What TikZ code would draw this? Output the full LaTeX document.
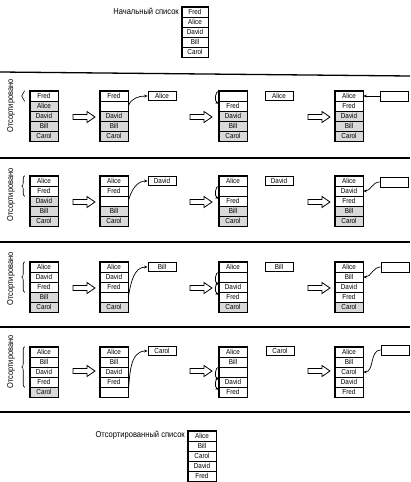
\documentclass[tikz,border=0pt]{standalone}
\usepackage{fontspec}
\setmainfont{Liberation Sans}[FakeStretch=0.88]
\usetikzlibrary{decorations.pathreplacing,arrows.meta,calc}
\tikzset{
  cell/.style={draw, line width=0.6pt, minimum height=10pt, inner sep=0pt, font=\fontsize{7.2}{7.5}\selectfont},
  wh/.style={fill=white},
  sh/.style={fill=gray!30},
  tmp/.style={draw, line width=0.8pt, minimum width=28pt, minimum height=9pt, inner sep=0pt, font=\fontsize{7.2}{7.5}\selectfont},
  conn/.style={-{Stealth[length=3.5pt,width=2.8pt]}, line width=0.7pt},
  hollow/.style={draw, line width=0.8pt, fill=white, line join=miter},
  sep/.style={line width=1.3pt},
  brc/.style={decorate, decoration={brace, amplitude=3pt}, line width=0.6pt},
  side/.style={rotate=90, inner sep=0pt, font=\fontsize{8.5}{9}\selectfont},
  lbl/.style={anchor=east, inner sep=0pt, font=\fontsize{8.6}{9}\selectfont}
}
\newcommand\mklist[5]{%
  \foreach \txt/\fl [count=\i] in {#5}{%
    \node[cell,\fl,minimum width=#4pt] (#1-\i) at ({#2+#4/2},{#3+10*\i-5}) {\txt};}
  \draw[line width=0.9pt] (#1-1.north west) rectangle (#1-5.south east);
}
\newcommand\harrow[2]{%
  \draw[hollow] (#1,{#2-2.5}) -- ({#1+14},{#2-2.5}) -- ({#1+14},{#2-5.5}) -- ({#1+22},#2)
    -- ({#1+14},{#2+5.5}) -- ({#1+14},{#2+2.5}) -- (#1,{#2+2.5}) -- cycle;}
\begin{document}
\begin{tikzpicture}[x=1pt,y=-1pt]
\useasboundingbox (0,0) rectangle (410,482);
\fill[white] (0,0) rectangle (410,482);

% initial list
\node[lbl] (initlbl) at (179,11) {Начальный список};
\mklist{top}{182}{7}{26}{Fred/wh,Alice/wh,David/wh,Bill/wh,Carol/wh}

% separators
\draw[sep] (0,72) -- (410,76);
\draw[sep] (0,158) -- (410,158);
\draw[sep] (0,242) -- (410,242);
\draw[sep] (0,327) -- (410,327);
\draw[sep] (0,412) -- (410,412);

% ---------- row 1 ----------
\node[side] (s1) at (11,106) {Отсортировано};
\mklist{a1}{30}{91}{28}{Fred/wh,Alice/sh,David/sh,Bill/sh,Carol/sh}
\draw[brc] ([xshift=-5pt]a1-1.south west) -- ([xshift=-5pt]a1-1.north west);
\harrow{73}{117}
\mklist{b1}{100}{91}{28}{Fred/wh,/wh,David/sh,Bill/sh,Carol/sh}
\node[tmp] (t1) at (162,96) {Alice};
\draw[conn] (b1-2.east) to[out=70,in=180] (t1.west);
\harrow{190}{117}
\mklist{c1}{219}{91}{28}{/wh,Fred/wh,David/sh,Bill/sh,Carol/sh}
\draw[conn] ([xshift=1pt]c1-1.north west) to[out=180,in=150] ([yshift=-3pt]c1-2.north west);
\node[tmp] (u1) at (279,96) {Alice};
\harrow{308}{117}
\mklist{d1}{335}{91}{28}{Alice/wh,Fred/wh,David/sh,Bill/sh,Carol/sh}
\node[tmp, minimum height=10pt] (e1) at (394,96) {};
\draw[conn] (e1.west) -- (d1-1.east);

% ---------- row 2 ----------
\node[side] (s2) at (11,195) {Отсортировано};
\mklist{a2}{30}{176}{28}{Alice/wh,Fred/wh,David/sh,Bill/sh,Carol/sh}
\draw[brc] ([xshift=-5pt]a2-2.south west) -- ([xshift=-5pt]a2-1.north west);
\harrow{73}{202}
\mklist{b2}{100}{176}{28}{Alice/wh,Fred/wh,/wh,Bill/sh,Carol/sh}
\node[tmp] (t2) at (162,181) {David};
\draw[conn] (b2-3.east) to[out=75,in=180] (t2.west);
\harrow{190}{202}
\mklist{c2}{219}{176}{28}{Alice/wh,/wh,Fred/wh,Bill/sh,Carol/sh}
\draw[conn] ([xshift=1pt]c2-2.north west) to[out=180,in=150] ([yshift=-3pt]c2-3.north west);
\node[tmp] (u2) at (279,181) {David};
\harrow{308}{202}
\mklist{d2}{335}{176}{28}{Alice/wh,David/wh,Fred/wh,Bill/sh,Carol/sh}
\node[tmp, minimum height=10pt] (e2) at (394,182) {};
\draw[conn] (e2.west) to[out=180,in=0] (d2-2.east);

% ---------- row 3 ----------
\node[side] (s3) at (11,279) {Отсортировано};
\mklist{a3}{30}{262}{28}{Alice/wh,David/wh,Fred/wh,Bill/sh,Carol/sh}
\draw[brc] ([xshift=-5pt]a3-3.south west) -- ([xshift=-5pt]a3-1.north west);
\harrow{73}{288}
\mklist{b3}{100}{262}{28}{Alice/wh,David/wh,Fred/wh,/wh,Carol/sh}
\node[tmp] (t3) at (162,267) {Bill};
\draw[conn] (b3-4.east) to[out=80,in=180] (t3.west);
\harrow{190}{288}
\mklist{c3}{219}{262}{28}{Alice/wh,/wh,David/wh,Fred/wh,Carol/sh}
\draw[conn] ([xshift=1pt]c3-2.north west) to[out=180,in=150] ([yshift=-3pt]c3-3.north west);
\draw[conn] ([xshift=1pt]c3-3.north west) to[out=180,in=150] ([yshift=-3pt]c3-4.north west);
\node[tmp] (u3) at (279,267) {Bill};
\harrow{308}{288}
\mklist{d3}{335}{262}{28}{Alice/wh,Bill/wh,David/wh,Fred/wh,Carol/sh}
\node[tmp, minimum height=10pt] (e3) at (395,267) {};
\draw[conn] (e3.west) to[out=180,in=0] (d3-2.east);

% ---------- row 4 ----------
\node[side] (s4) at (11,362) {Отсортировано};
\mklist{a4}{30}{347}{28}{Alice/wh,Bill/wh,David/wh,Fred/wh,Carol/sh}
\draw[brc] ([xshift=-5pt]a4-4.south west) -- ([xshift=-5pt]a4-1.north west);
\harrow{73}{371}
\mklist{b4}{100}{347}{28}{Alice/wh,Bill/wh,David/wh,Fred/wh,/wh}
\node[tmp] (t4) at (162,351) {Carol};
\draw[conn] (b4-5.east) to[out=85,in=180] (t4.west);
\harrow{190}{371}
\mklist{c4}{219}{347}{28}{Alice/wh,Bill/wh,/wh,David/wh,Fred/wh}
\draw[conn] ([xshift=1pt]c4-3.north west) to[out=180,in=150] ([yshift=-3pt]c4-4.north west);
\draw[conn] ([xshift=1pt]c4-4.north west) to[out=180,in=150] ([yshift=-3pt]c4-5.north west);
\node[tmp] (u4) at (280,351) {Carol};
\harrow{308}{371}
\mklist{d4}{335}{347}{28}{Alice/wh,Bill/wh,Carol/wh,David/wh,Fred/wh}
\node[tmp, minimum height=10pt] (e4) at (395,350) {};
\draw[conn] (e4.west) to[out=180,in=0] (d4-3.east);

% final list
\node[lbl] (finlbl) at (185,435) {Отсортированный список};
\mklist{fin}{188}{431}{28}{Alice/wh,Bill/wh,Carol/wh,David/wh,Fred/wh}
\end{tikzpicture}
\end{document}
